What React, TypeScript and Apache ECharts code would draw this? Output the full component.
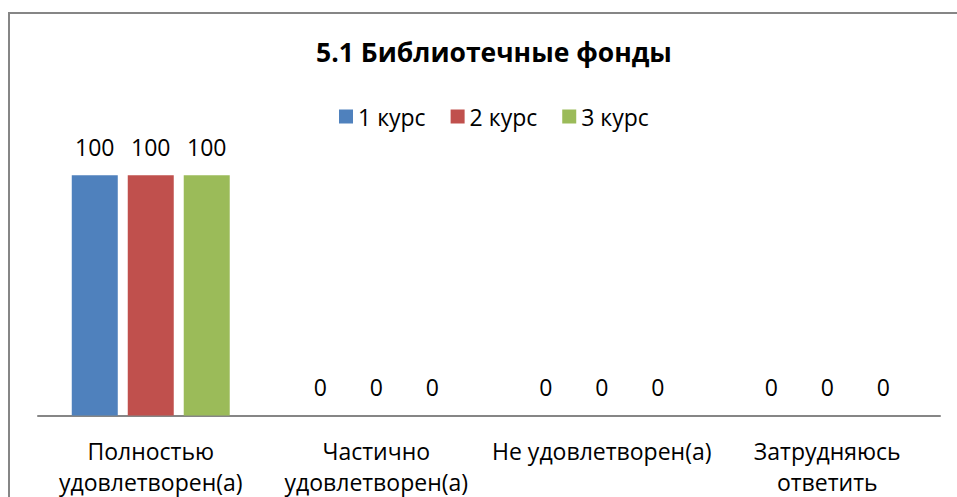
import React, { useEffect, useRef } from "react";
import * as echarts from "echarts";

const categories = [
  "Полностью\nудовлетворен(а)",
  "Частично\nудовлетворен(а)",
  "Не удовлетворен(а)",
  "Затрудняюсь\nответить",
];
const seriesNames = ["1 курс", "2 курс", "3 курс"];
const course1 = [100, 0, 0, 0];
const course2 = [100, 0, 0, 0];
const course3 = [100, 0, 0, 0];
const colors = ["#4F81BD", "#C0504D", "#9BBB59"];
const titleText = "5.1 Библиотечные фонды";

const FONT = "'Open Sans', 'Noto Sans', sans-serif";

export default function App() {
  const ref = useRef<HTMLDivElement>(null);
  useEffect(() => {
    if (!ref.current) return;
    const chart = echarts.init(ref.current, null, { renderer: "svg" });
    const values = [course1, course2, course3];
    chart.setOption({
      animation: false,
      backgroundColor: "#ffffff",
      textStyle: { fontFamily: FONT, color: "#000" },
      title: {
        text: titleText,
        left: 489,
        top: 33,
        textAlign: "center",
        textStyle: { fontFamily: FONT, fontSize: 26.5, fontWeight: "bold", color: "#000" },
      },
      legend: {
        data: seriesNames,
        left: 334,
        top: 100,
        itemWidth: 14,
        itemHeight: 14,
        itemGap: 25,
        icon: "rect",
        textStyle: { fontFamily: FONT, fontSize: 23, lineHeight: 23, color: "#000" },
      },
      grid: { left: 38, right: 17, top: 127.2, bottom: 77, containLabel: false },
      xAxis: {
        type: "category",
        data: categories,
        axisTick: { show: false },
        axisLine: { lineStyle: { color: "#868686", width: 2 } },
        axisLabel: {
          interval: 0,
          margin: 19.5,
          fontFamily: FONT,
          fontSize: 23,
          lineHeight: 31,
          color: "#000",
        },
      },
      yAxis: { type: "value", min: 0, max: 120, show: false },
      series: values.map((v, i) => ({
        name: seriesNames[i],
        type: "bar",
        data: v,
        barWidth: 46,
        barGap: "21.7%",
        itemStyle: { color: colors[i] },
        label: {
          show: true,
          position: "top",
          distance: 16.5,
          fontFamily: FONT,
          fontSize: 23,
          lineHeight: 24,
          color: "#000",
        },
      })),
      graphic: [
        {
          type: "rect",
          shape: { x: 9, y: 13, width: 1000, height: 600 },
          style: { fill: "none", stroke: "#868686", lineWidth: 2 },
          silent: true,
          z: -1,
        },
      ],
    });
    return () => chart.dispose();
  }, []);
  return (
    <div
      ref={ref}
      style={{ position: "fixed", left: 0, top: 0, width: 957, height: 497 }}
    />
  );
}
